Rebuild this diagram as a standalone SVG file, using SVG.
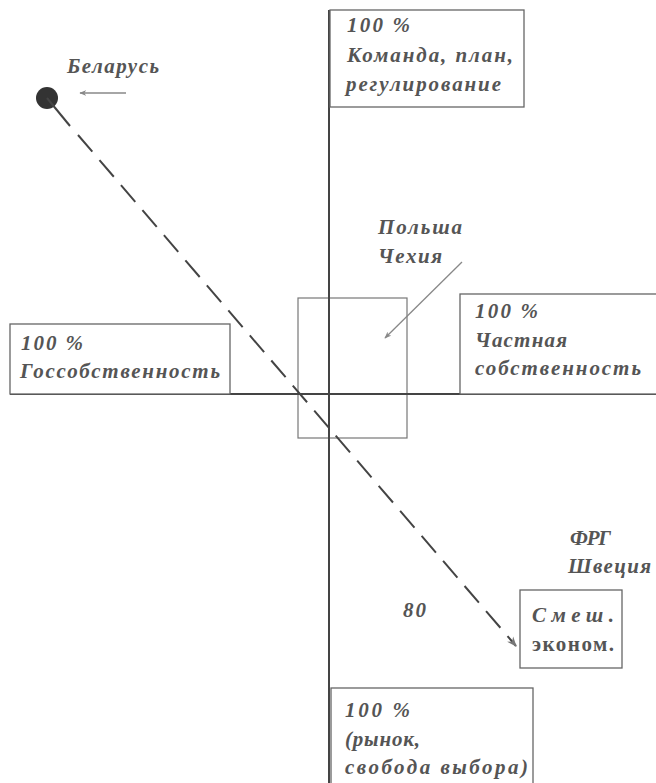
<svg xmlns="http://www.w3.org/2000/svg" width="656" height="783" viewBox="0 0 656 783">
<defs>
<style>
.t{font-family:"Liberation Serif","DejaVu Serif",serif;font-style:italic;font-weight:bold;font-size:21px;fill:#555;letter-spacing:1px}
.u{font-style:normal}
.box{fill:#fff;stroke:#666;stroke-width:1.3}
.axis{stroke:#444;stroke-width:2;fill:none}
.dash{stroke:#444;stroke-width:2;fill:none;stroke-dasharray:22 11}
.thin{stroke:#888;stroke-width:1.3;fill:none}
</style>
<marker id="ah" viewBox="0 0 10 10" refX="9" refY="5" markerWidth="7" markerHeight="7" orient="auto" markerUnits="userSpaceOnUse">
<path d="M0,1 L10,5 L0,9 L3,5 Z" fill="#888"/>
</marker>
<marker id="ah2" viewBox="0 0 10 10" refX="9" refY="5" markerWidth="10" markerHeight="10" orient="auto" markerUnits="userSpaceOnUse">
<path d="M0,1 L10,5 L0,9 L3,5 Z" fill="#777"/>
</marker>
</defs>
<rect width="656" height="783" fill="#fff"/>
<g id="small-box"><rect x="298" y="298" width="109" height="140" fill="none" stroke="#777" stroke-width="1.2"/></g>
<g id="axes">
<line class="axis" x1="329" y1="10" x2="329" y2="783"/>
<line class="axis" x1="10" y1="394" x2="656" y2="394"/>
</g>
<g id="node-top"><rect class="box" x="330" y="10" width="194" height="97"/>
<text class="t" x="347" y="32" textLength="64" lengthAdjust="spacing">100 %</text>
<text class="t" x="347" y="62" textLength="167" lengthAdjust="spacing">Команда, план,</text>
<text class="t" x="346" y="91" textLength="156" lengthAdjust="spacing">регулирование</text></g>
<g id="node-left"><rect class="box" x="10" y="324" width="220" height="70"/>
<text class="t" x="21" y="350" textLength="63" lengthAdjust="spacing">100 %</text>
<text class="t" x="20" y="378" textLength="201" lengthAdjust="spacing">Госсобственность</text></g>
<g id="node-right"><rect class="box" x="460" y="294" width="200" height="100"/>
<text class="t" x="475" y="318" textLength="64" lengthAdjust="spacing">100 %</text>
<text class="t" x="475" y="347" textLength="93" lengthAdjust="spacing">Частная</text>
<text class="t" x="475" y="375" textLength="167" lengthAdjust="spacing">собственность</text></g>
<g id="node-bottom"><rect class="box" x="331" y="688" width="202" height="100"/>
<text class="t" x="345" y="717" textLength="66" lengthAdjust="spacing">100 %</text>
<text class="t" x="345" y="746" textLength="76" lengthAdjust="spacing">(рынок,</text>
<text class="t" x="345" y="774" textLength="184" lengthAdjust="spacing">свобода выбора)</text></g>
<g id="node-mixed"><rect class="box" x="520" y="590" width="102" height="78"/>
<text class="t" x="532" y="622" textLength="83" lengthAdjust="spacing">Смеш.</text>
<text class="t u" x="532" y="651" textLength="83" lengthAdjust="spacing">эконом.</text></g>
<g id="node-belarus"><circle cx="47" cy="98" r="11" fill="#333"/>
<text class="t" x="67" y="73" textLength="93" lengthAdjust="spacing">Беларусь</text></g>
<g id="node-poland"><text class="t" x="378" y="234" textLength="85" lengthAdjust="spacing">Польша</text>
<text class="t" x="378" y="263" textLength="65" lengthAdjust="spacing">Чехия</text></g>
<g id="node-frg"><text class="t" x="570" y="545" textLength="42" lengthAdjust="spacing">ФРГ</text>
<text class="t" x="568" y="573" textLength="84" lengthAdjust="spacing">Швеция</text></g>
<g id="label-80"><text class="t" x="403" y="617" textLength="24" lengthAdjust="spacing">80</text></g>
<g id="connectors">
<line x1="47" y1="98" x2="70" y2="126" stroke="#444" stroke-width="2"/>
<line class="dash" x1="78" y1="135" x2="516" y2="646" marker-end="url(#ah2)"/>
<line class="thin" x1="126" y1="93" x2="80" y2="93" marker-end="url(#ah)"/>
<line class="thin" x1="462" y1="262" x2="385" y2="338" marker-end="url(#ah)"/>
</g>
</svg>
